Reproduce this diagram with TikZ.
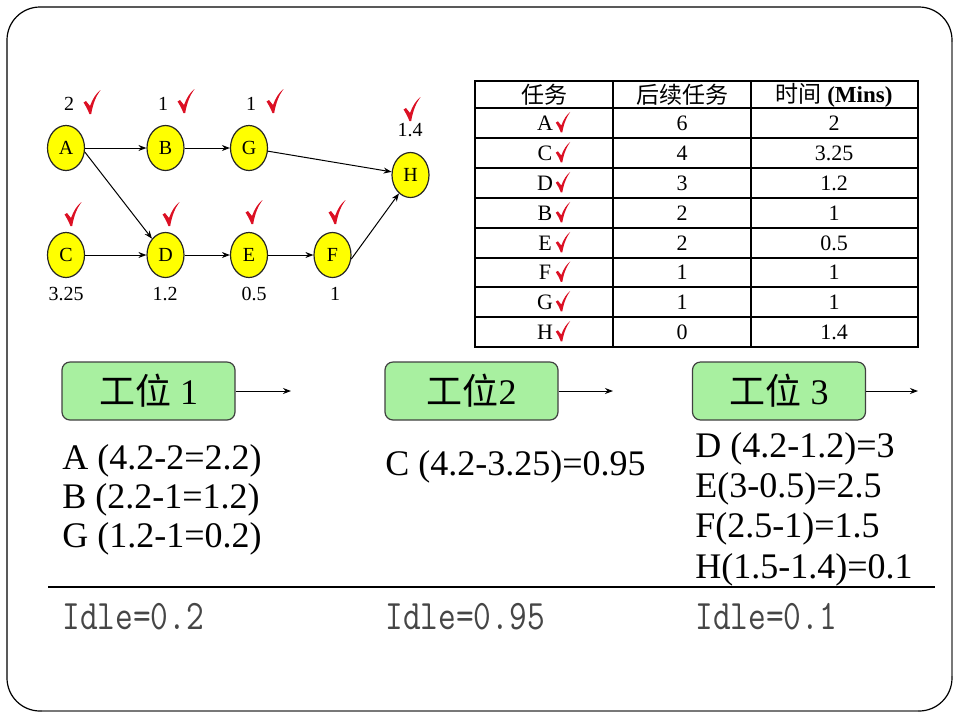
\documentclass[tikz,border=0pt]{standalone}
\usepackage{fontspec}
\usepackage{graphicx}
\setmainfont{Liberation Serif}
\newfontfamily\cjk{Noto Sans CJK SC}
\usetikzlibrary{arrows.meta,shapes.geometric}
\definecolor{chkred}{RGB}{220,16,36}
\definecolor{nodeyellow}{RGB}{255,255,0}
\definecolor{boxgreen}{RGB}{168,240,160}
\definecolor{idlegray}{RGB}{70,70,70}
\definecolor{framegray}{RGB}{120,120,120}
\begin{document}
\begin{tikzpicture}[x=0.5pt,y=-0.5pt,
  task/.style={ellipse, draw=black!85, line width=0.6pt, fill=nodeyellow,
    minimum width=18.5pt, minimum height=22.5pt, inner sep=0pt,
    font=\fontsize{10}{12}\selectfont},
  lbl/.style={inner sep=0pt, font=\fontsize{10}{12}\selectfont},
  arr/.style={-{Stealth[length=4pt,width=3pt]}, line width=0.5pt},
  station/.style={rectangle, rounded corners=4pt, draw=black!75, line width=0.6pt,
    fill=boxgreen, minimum width=86.5pt, minimum height=29pt, inner sep=0pt,
    font=\fontsize{18}{20}\selectfont},
  calc/.style={anchor=base west, inner sep=0pt, font=\fontsize{18}{20}\selectfont},
  idle/.style={anchor=base west, inner sep=0pt, text=idlegray, font=\fontsize{17.2}{18}\ttfamily},
  cell/.style={inner sep=0pt, font=\fontsize{11}{12}\selectfont},
  head/.style={inner sep=0pt, font=\fontsize{11.5}{13}\selectfont},
  tline/.style={line width=1.25pt},
  chk/.pic={\fill[chkred] (-8.5,-0.5) -- (-6,-2) -- (-2,3) .. controls (0.5,-4) and (4,-9.5) .. (8.5,-13)
     .. controls (4.5,-7.5) and (1,0) .. (-0.8,11) -- (-2.6,11) .. controls (-4.5,6) and (-6.5,2.5) .. (-8.5,-0.5) -- cycle;}
]
\useasboundingbox (0,0) rectangle (960,720);
% frame
\draw[line width=0.6pt, rounded corners=16.5pt] (7,7) rectangle (952,711);
\draw[framegray, line width=1.1pt] (952,42) -- (952,676);
\draw[framegray, line width=1.1pt] (42,711) -- (918,711);

% graph nodes
\node[task] (A) at (66,148) {A};
\node[task] (B) at (165.5,148) {B};
\node[task] (G) at (249,148) {G};
\node[task] (H) at (410.5,175) {H};
\node[task] (C) at (66,255) {C};
\node[task] (D) at (165.5,255) {D};
\node[task] (E) at (249,255) {E};
\node[task] (F) at (332.5,255) {F};
% edges
\draw[arr] (A) -- (B);
\draw[arr] (B) -- (G);
\draw[arr] (G) -- (H);
\draw[arr] (A.-12) -- (D.north west);
\draw[arr] (C) -- (D);
\draw[arr] (D) -- (E);
\draw[arr] (E) -- (F);
\draw[arr] (F.-12) -- (H.-122);
% labels
\node[lbl] (tA) at (69,104) {2};
\node[lbl] (tB) at (163,104) {1};
\node[lbl] (tG) at (251,104) {1};
\node[lbl] (tH) at (410,130) {1.4};
\node[lbl] (tC) at (66,294) {3.25};
\node[lbl] (tD) at (165,294) {1.2};
\node[lbl] (tE) at (254,294) {0.5};
\node[lbl] (tF) at (335,294) {1};
\pic at (92,103) {chk};
\pic at (186,102) {chk};
\pic at (275,102) {chk};
\pic at (412,110) {chk};
\pic at (73,215) {chk};
\pic at (171,215) {chk};
\pic at (254,213) {chk};
\pic at (337,213) {chk};

% table
\draw[tline] (475,81) rectangle (918,347);
\foreach \yy in {108,138,168,198,228,258,287,317} \draw[tline] (475,\yy) -- (918,\yy);
\draw[tline] (613,81) -- (613,347);
\draw[tline] (751,81) -- (751,347);
\node[head] (h1) at (544,95) {\cjk 任务};
\node[head] (h2) at (682,95) {\cjk 后续任务};
\node[head] (h3) at (834,95) {{\cjk 时间} \textbf{(Mins)}};
\foreach \ll/\nn/\tt/\yy [count=\i] in {A/6/2/123, C/4/3.25/153, D/3/1.2/183, B/2/1/213, E/2/0.5/243, F/1/1/272.5, G/1/1/302, H/0/1.4/332}{
  \node[cell] (r\i a) at (545,\yy) {\ll};
  \node[cell] (r\i b) at (682,\yy) {\nn};
  \node[cell] (r\i c) at (834,\yy) {\tt};
  \pic[scale=0.85] at (563,\yy) {chk};
}

% stations
\node[station] (s1) at (148.5,391) {{\cjk 工位} 1};
\node[station] (s2) at (471.5,391) {{\cjk 工位}2};
\node[station] (s3) at (779,391) {{\cjk 工位} 3};
\coordinate (e1) at (291,391);
\coordinate (e2) at (613,391);
\coordinate (e3) at (918,391);
\draw[arr] (s1.east) -- (e1);
\draw[arr] (s2.east) -- (e2);
\draw[arr] (s3.east) -- (e3);

\node[calc] (c1a) at (62,469) {A (4.2-2=2.2)};
\node[calc] (c1b) at (62,508) {B (2.2-1=1.2)};
\node[calc] (c1c) at (62,547) {G (1.2-1=0.2)};
\node[calc] (c2a) at (385,475) {C (4.2-3.25)=0.95};
\node[calc] (c3a) at (695,457) {D (4.2-1.2)=3};
\node[calc] (c3b) at (695,497) {E(3-0.5)=2.5};
\node[calc] (c3c) at (695,537) {F(2.5-1)=1.5};
\node[calc] (c3d) at (695,578) {H(1.5-1.4)=0.1};

\coordinate (sepL) at (48,587);
\coordinate (sepR) at (935,587);
\draw[line width=0.6pt] (sepL) -- (sepR);

\node[idle] (i1) at (62,629) {\scalebox{1}[1.22]{Idle=0.2}};
\node[idle] (i2) at (385,629) {\scalebox{1}[1.22]{Idle=0.95}};
\node[idle] (i3) at (695,629) {\scalebox{1}[1.22]{Idle=0.1}};
\end{tikzpicture}
\end{document}
